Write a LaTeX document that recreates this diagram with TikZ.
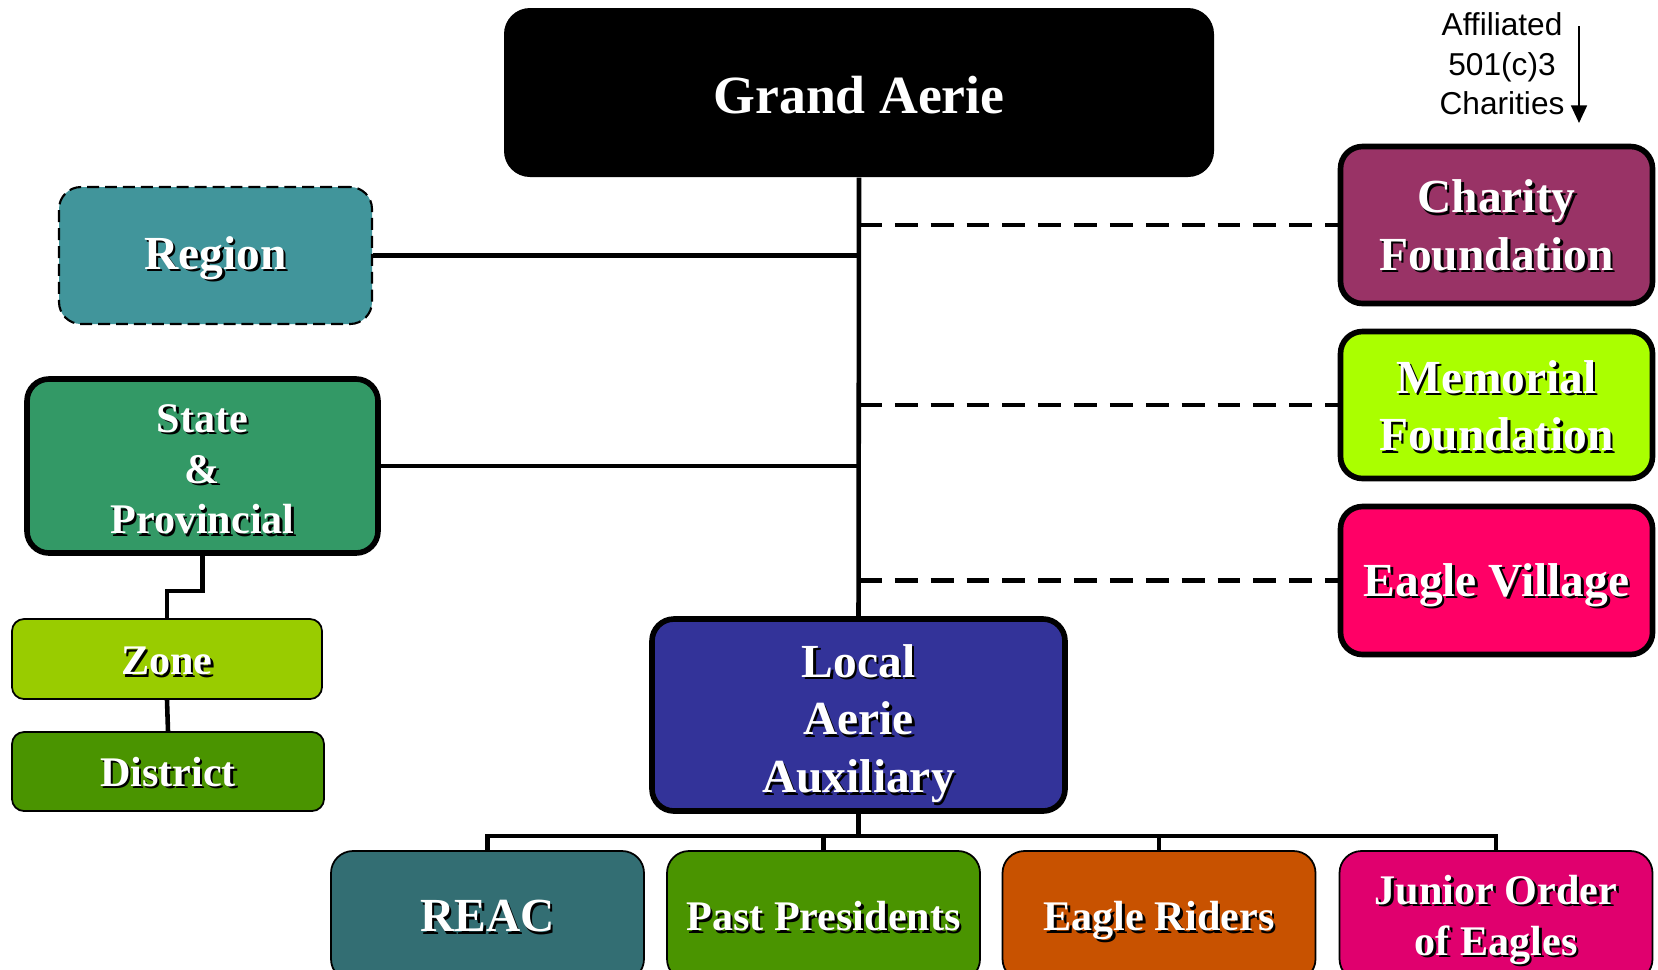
\documentclass[tikz,border=0pt]{standalone}
\usepackage{fontspec}
\setmainfont{Liberation Serif}
\newfontfamily\notefont{Liberation Sans}
\usetikzlibrary{positioning,arrows.meta,calc}
\definecolor{regionteal}{HTML}{41959B}
\definecolor{stategreen}{HTML}{339966}
\definecolor{zonelime}{HTML}{99CC00}
\definecolor{leafgreen}{HTML}{4A9400}
\definecolor{charityplum}{HTML}{993366}
\definecolor{memoriallime}{HTML}{AAFF00}
\definecolor{villagepink}{HTML}{FF0066}
\definecolor{localblue}{HTML}{333399}
\definecolor{reacteal}{HTML}{336E73}
\definecolor{ridersorange}{HTML}{C85200}
\definecolor{juniormagenta}{HTML}{E0006E}
% white lettering with a dark drop shadow, set a little low
\newcommand{\shd}[2][1.0pt]{\leavevmode\raisebox{-#1}[\height][\depth]{\rlap{\kern0.7pt\raisebox{-0.7pt}{\color{black}#2}}#2}}
\newcommand{\bigfont}{\fontsize{15.3}{18}\selectfont\bfseries}
\newcommand{\midfont}{\fontsize{13.5}{16.4}\selectfont\bfseries}
\newcommand{\smlfont}{\fontsize{12}{14.4}\selectfont\bfseries}
\tikzset{
  unit/.style={draw=black, text=white, align=center, inner sep=0pt, rounded corners=0.22cm},
  thickbox/.style={unit, line width=1.6pt},
  thinbox/.style={unit, line width=0.5pt},
  link/.style={line width=1.3pt},
  affil/.style={link, dash pattern=on 6.5pt off 3.7pt},
}

\begin{document}
\begin{tikzpicture}
  \useasboundingbox (0,0) rectangle (16.58,-9.69);

  % top
  \node[unit, draw=none, fill=black, rounded corners=0.26cm, minimum width=7.10cm, minimum height=1.69cm, font=\bigfont]
    (grand) at (8.59,-0.925) {\shd{Grand Aerie}};

  % left side
  \node[unit, fill=regionteal, line width=0.6pt, dash pattern=on 3.4pt off 1.7pt, minimum width=3.13cm, minimum height=1.37cm, font=\midfont]
    (region) at (2.155,-2.555) {\shd{Region}};
  \node[thickbox, fill=stategreen, minimum width=3.51cm, minimum height=1.74cm, font=\smlfont]
    (state) at (2.025,-4.66) {\shd[1.3pt]{State}\\\shd[1.3pt]{\&}\\\shd[1.3pt]{Provincial}};
  \node[thinbox, fill=zonelime, rounded corners=0.12cm, minimum width=3.10cm, minimum height=0.80cm, font=\smlfont]
    (zone) at (1.67,-6.59) {\shd{Zone}};
  \node[thinbox, fill=leafgreen, rounded corners=0.12cm, minimum width=3.12cm, minimum height=0.79cm, font=\smlfont]
    (district) at (1.68,-7.715) {\shd[0.5pt]{District}};

  % right side
  \node[thickbox, fill=charityplum, minimum width=3.12cm, minimum height=1.57cm, font=\midfont]
    (charity) at (14.965,-2.25) {\shd[0.4pt]{Charity}\\\shd[0.4pt]{Foundation}};
  \node[thickbox, fill=memoriallime, minimum width=3.12cm, minimum height=1.47cm, font=\midfont]
    (memorial) at (14.965,-4.05) {\shd[0.6pt]{Memorial}\\\shd[0.6pt]{Foundation}};
  \node[thickbox, fill=villagepink, minimum width=3.12cm, minimum height=1.48cm, font=\midfont]
    (village) at (14.965,-5.805) {\shd[1.7pt]{Eagle Village}};
  \node[align=center, font=\notefont\fontsize{9}{11.2}\selectfont]
    (note) at (15.02,-0.64) {Affiliated\\501(c)3\\Charities};
  \coordinate (notetop) at (15.79,-0.26);
  \coordinate (notebot) at (15.79,-1.23);

  % local level
  \node[thickbox, fill=localblue, minimum width=4.13cm, minimum height=1.92cm, font=\midfont]
    (local) at (8.585,-7.15) {\shd[2.8pt]{Local}\\\shd[2.8pt]{Aerie}\\\shd[2.8pt]{Auxiliary}};
  \node[thinbox, fill=reacteal, minimum width=3.13cm, minimum height=1.30cm, font=\midfont]
    (reac) at (4.875,-9.16) {\shd[0.4pt]{REAC}};
  \node[thinbox, fill=leafgreen, minimum width=3.13cm, minimum height=1.30cm, font=\smlfont]
    (past) at (8.235,-9.16) {\shd[0.4pt]{Past Presidents}};
  \node[thinbox, fill=ridersorange, minimum width=3.13cm, minimum height=1.30cm, font=\smlfont]
    (riders) at (11.59,-9.16) {\shd[1.7pt]{Eagle Riders}};
  \node[thinbox, fill=juniormagenta, minimum width=3.13cm, minimum height=1.30cm, font=\smlfont]
    (junior) at (14.96,-9.16) {\shd[1.4pt]{Junior Order}\\\shd[1.4pt]{of Eagles}};

  % connectors
  \draw[link] (grand.south) -- (local.north);
  \draw[link] (region.east) -- (region.east -| grand.south);
  \draw[link] (state.east) -- (state.east -| grand.south);
  \draw[link] (state.south) |- ($(zone.north)+(0,0.27)$) -- (zone.north);
  \draw[link] (zone.south) -- (district.north);
  \draw[affil] (charity.west -| grand.south) -- (charity.west);
  \draw[affil] (memorial.west -| grand.south) -- (memorial.west);
  \draw[affil] (village.west -| grand.south) -- (village.west);
  \draw[-{Triangle[length=5pt,width=4.5pt]}, line width=0.6pt] (notetop) -- (notebot);

  % bus to the units
  \coordinate (bus) at (8.585,-8.36);
  \draw[link] (local.south) -- (bus);
  \draw[link] (reac.north) |- (bus) -| (junior.north);
  \draw[link] (past.north) -- (past.north |- bus);
  \draw[link] (riders.north) -- (riders.north |- bus);
\end{tikzpicture}
\end{document}
